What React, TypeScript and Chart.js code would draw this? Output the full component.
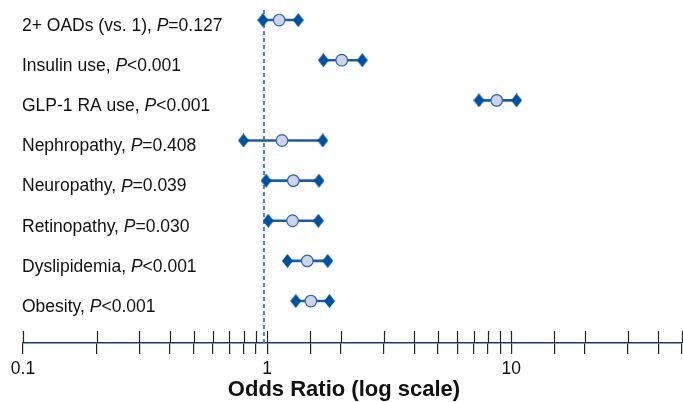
import React, { useEffect, useRef } from 'react';
import { Chart, registerables } from 'chart.js';

Chart.register(...registerables);

// ---- data ----
const categories = [
  '2+ OADs (vs. 1)',
  'Insulin use',
  'GLP-1 RA use',
  'Nephropathy',
  'Neuropathy',
  'Retinopathy',
  'Dyslipidemia',
  'Obesity',
];
const pSigns = ['=', '<', '<', '=', '=', '=', '<', '<'];
const pValues = ['0.127', '0.001', '0.001', '0.408', '0.039', '0.030', '0.001', '0.001'];
const oddsRatios = [1.12, 2.02, 8.71, 1.15, 1.28, 1.27, 1.46, 1.51];
const lowerCI = [0.96, 1.7, 7.37, 0.8, 0.99, 1.01, 1.21, 1.31];
const upperCI = [1.34, 2.45, 10.5, 1.69, 1.63, 1.62, 1.77, 1.8];
const referenceOR = 0.97;
const xTickLabels = [0.1, 1, 10];
const xMin = 0.1;
const xMax = 50;
const axisTitle = 'Odds Ratio (log scale)';

const FONT = "'Liberation Sans', Arial, Helvetica, sans-serif";
const DIAMOND = '#00519d';
const LINE = '#1f5ca3';
const CIRCLE_FILL = '#cbd4ea';
const CIRCLE_BORDER = '#2a64ac';
const REF = '#4a88c6';

function makeDiamond(): HTMLCanvasElement {
  const c = document.createElement('canvas');
  const w = 11;
  const h = 14;
  c.width = w;
  c.height = h;
  const g = c.getContext('2d')!;
  g.fillStyle = DIAMOND;
  g.beginPath();
  g.moveTo(w / 2, 0);
  g.lineTo(w, h / 2);
  g.lineTo(w / 2, h);
  g.lineTo(0, h / 2);
  g.closePath();
  g.fill();
  return c;
}

const overlayPlugin = {
  id: 'forestOverlay',
  afterDraw(chart: any) {
    const { ctx, chartArea } = chart;
    const xs = chart.scales.x;
    const ys = chart.scales.y;
    ctx.save();
    // upward part of crossing tick marks
    ctx.strokeStyle = '#222';
    ctx.lineWidth = 1.2;
    xs.ticks.forEach((t: any) => {
      const px = Math.round(xs.getPixelForValue(t.value)) + 0.5;
      ctx.beginPath();
      ctx.moveTo(px, chartArea.bottom - 12);
      ctx.lineTo(px, chartArea.bottom);
      ctx.stroke();
    });
    // row labels
    ctx.fillStyle = '#111';
    ctx.textBaseline = 'middle';
    ctx.textAlign = 'left';
    const size = 17.5;
    categories.forEach((cat, i) => {
      const y = ys.getPixelForValue(i) + 6;
      let x = 22;
      ctx.font = `${size}px ${FONT}`;
      const a = cat + ', ';
      ctx.fillText(a, x, y);
      x += ctx.measureText(a).width;
      ctx.font = `italic ${size}px ${FONT}`;
      ctx.fillText('P', x, y);
      x += ctx.measureText('P').width;
      ctx.font = `${size}px ${FONT}`;
      ctx.fillText(pSigns[i] + pValues[i], x, y);
    });
    // axis title
    ctx.font = `bold 22px ${FONT}`;
    ctx.textAlign = 'center';
    ctx.fillStyle = '#111';
    ctx.fillText(axisTitle, 344, 390);
    ctx.restore();
  },
};

export default function App() {
  const ref = useRef<HTMLCanvasElement>(null);

  useEffect(() => {
    document.body.style.margin = '0';
    const diamond = makeDiamond();
    const ciSets = categories.map((_, i) => ({
      type: 'line' as const,
      data: [
        { x: lowerCI[i], y: i },
        { x: upperCI[i], y: i },
      ],
      borderColor: LINE,
      borderWidth: 2.6,
      pointRadius: 0,
      showLine: true,
      order: 2,
    }));
    const chart = new Chart(ref.current!, {
      type: 'scatter',
      data: {
        datasets: [
          {
            type: 'line',
            data: [
              { x: referenceOR, y: -0.25 },
              { x: referenceOR, y: 8.05 },
            ],
            borderColor: REF,
            borderWidth: 2,
            borderDash: [4, 3],
            pointRadius: 0,
            showLine: true,
            order: 3,
          } as any,
          ...ciSets,
          {
            data: categories.flatMap((_, i) => [
              { x: lowerCI[i], y: i },
              { x: upperCI[i], y: i },
            ]),
            pointStyle: diamond,
            pointRadius: 7,
            order: 1,
          } as any,
          {
            data: categories.map((_, i) => ({ x: oddsRatios[i], y: i })),
            pointStyle: 'circle',
            pointRadius: 5.8,
            backgroundColor: CIRCLE_FILL,
            borderColor: CIRCLE_BORDER,
            borderWidth: 1.2,
            order: 0,
          },
        ],
      },
      options: {
        responsive: false,
        animation: false,
        devicePixelRatio: 1,
        layout: { autoPadding: false, padding: { left: 23, right: 1, top: 0, bottom: 0 } },
        plugins: {
          legend: { display: false },
          tooltip: { enabled: false },
        },
        scales: {
          x: {
            type: 'logarithmic',
            min: xMin,
            max: xMax,
            position: 'bottom',
            afterFit: (s: any) => {
              s.height = 59;
              s.paddingLeft = 0;
              s.paddingRight = 0;
            },
            border: { display: true, color: '#1f3864', width: 1.6 },
            grid: {
              display: true,
              drawOnChartArea: false,
              drawTicks: true,
              tickLength: 11,
              color: '#222',
              lineWidth: 1.2,
            },
            ticks: {
              autoSkip: false,
              maxRotation: 0,
              padding: 5,
              color: '#111',
              font: { family: FONT, size: 17.5 },
              callback: (v: any) => {
                const n = Number(v);
                const hit = xTickLabels.find((t) => Math.abs(n - t) < t * 1e-6);
                return hit !== undefined ? String(hit) : '';
              },
            },
          },
          y: {
            type: 'linear',
            min: -0.5,
            max: 8.045,
            reverse: true,
            display: false,
          },
        },
      } as any,
      plugins: [overlayPlugin],
    });
    return () => chart.destroy();
  }, []);

  return (
    <div style={{ width: 683, height: 402, background: '#fff' }}>
      <canvas ref={ref} width={683} height={402} style={{ display: 'block' }} />
    </div>
  );
}
